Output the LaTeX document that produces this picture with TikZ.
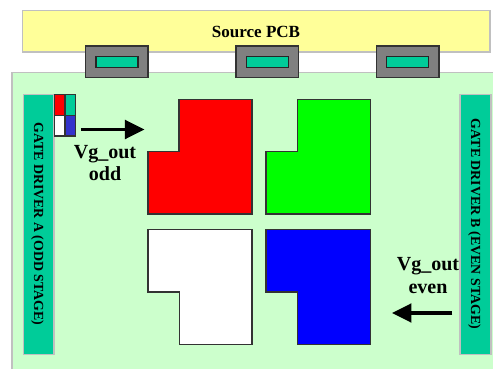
\documentclass[tikz,border=0pt]{standalone}
\usepackage{fontspec}
\setmainfont{Liberation Serif}
\usepackage{xcolor}
\usetikzlibrary{arrows.meta}
\definecolor{pcbyellow}{HTML}{FFFF99}
\definecolor{panelgreen}{HTML}{CCFFCC}
\definecolor{driverteal}{HTML}{00CC99}
\definecolor{edgegray}{HTML}{C0C0C0}
\definecolor{tabgray}{HTML}{808080}
\definecolor{pixblue}{HTML}{3333CC}
\begin{document}
\begin{tikzpicture}[
  board/.style={draw=edgegray, line width=0.85pt},
  tab/.style={draw=black!80, line width=0.6pt, fill=tabgray},
  chip/.style={draw=black!85, line width=0.6pt, fill=driverteal},
  pixel/.style={draw=black!80, line width=0.6pt},
  label/.style={font=\bfseries, align=center, inner sep=0pt, text=black},
  drive/.style={line width=2pt, -{Triangle[length=0.39cm,width=0.37cm]}}]
\useasboundingbox (0,0) rectangle (9.86,7.38);
\fill [white] (0,0) rectangle (9.86,7.38);

% boards
\draw [board, fill=pcbyellow] (0.45,6.34) rectangle (9.8,7.17);
\fill [panelgreen] (0.24,0) rectangle (9.86,5.93);
\draw [board] (0.24,0) -- (0.24,5.93) -- (9.86,5.93);
\node [label, font=\bfseries\fontsize{9.7}{12}\selectfont] (pcb) at (5.12,6.74) {Source PCB};

% tabs between the boards
\foreach \x/\y in {1.71/1.92, 4.72/4.93, 7.53/7.73} {
  \draw [tab] (\x,5.83) rectangle (\x+1.25,6.46);
  \draw [chip] (\y,6.03) rectangle (\y+0.84,6.25);
}

% gate drivers
\draw [board, fill=driverteal] (0.47,0.29) rectangle (1.08,5.49);
\draw [board, fill=driverteal] (9.2,0.29) rectangle (9.82,5.49);
\node [label, rotate=-90, font=\bfseries\fontsize{7.9}{10}\selectfont] (driverA) at (0.75,2.9) {GATE DRIVER A (ODD STAGE)};
\node [label, rotate=-90, font=\bfseries\fontsize{7.9}{10}\selectfont] (driverB) at (9.49,2.9) {GATE DRIVER B (EVEN STAGE)};

% small pixel key
\draw [pixel, fill=red] (1.09,5.07) rectangle (1.30,5.49);
\draw [pixel, fill=driverteal] (1.30,5.07) rectangle (1.51,5.49);
\draw [pixel, fill=white] (1.09,4.66) rectangle (1.30,5.07);
\draw [pixel, fill=pixblue] (1.30,4.66) rectangle (1.51,5.07);

% pixels
\draw [pixel, fill=red] (3.58,5.39) -- (5.04,5.39) -- (5.04,3.10) -- (2.96,3.10) -- (2.96,4.35) -- (3.58,4.35) -- cycle;
\draw [pixel, fill=green] (5.95,5.39) -- (7.41,5.39) -- (7.41,3.10) -- (5.32,3.10) -- (5.32,4.35) -- (5.95,4.35) -- cycle;
\draw [pixel, fill=white] (2.96,2.79) -- (5.04,2.79) -- (5.04,0.49) -- (3.59,0.49) -- (3.59,1.54) -- (2.96,1.54) -- cycle;
\draw [pixel, fill=blue] (5.32,2.79) -- (7.41,2.79) -- (7.41,0.49) -- (5.95,0.49) -- (5.95,1.54) -- (5.32,1.54) -- cycle;

% output arrows
\coordinate (oddfrom) at (1.62,4.79);
\coordinate (oddto) at (2.89,4.79);
\coordinate (evenfrom) at (9.05,1.12);
\coordinate (evento) at (7.84,1.12);
\draw [drive] (oddfrom) -- (oddto);
\draw [drive] (evenfrom) -- (evento);
\node [label, font=\bfseries\fontsize{11.4}{12.2}\selectfont] (oddtext) at (2.10,4.12) {Vg\_out\\odd};
\node [label, font=\bfseries\fontsize{11.4}{13.6}\selectfont] (eventext) at (8.56,1.87) {Vg\_out\\even};

\end{tikzpicture}
\end{document}
